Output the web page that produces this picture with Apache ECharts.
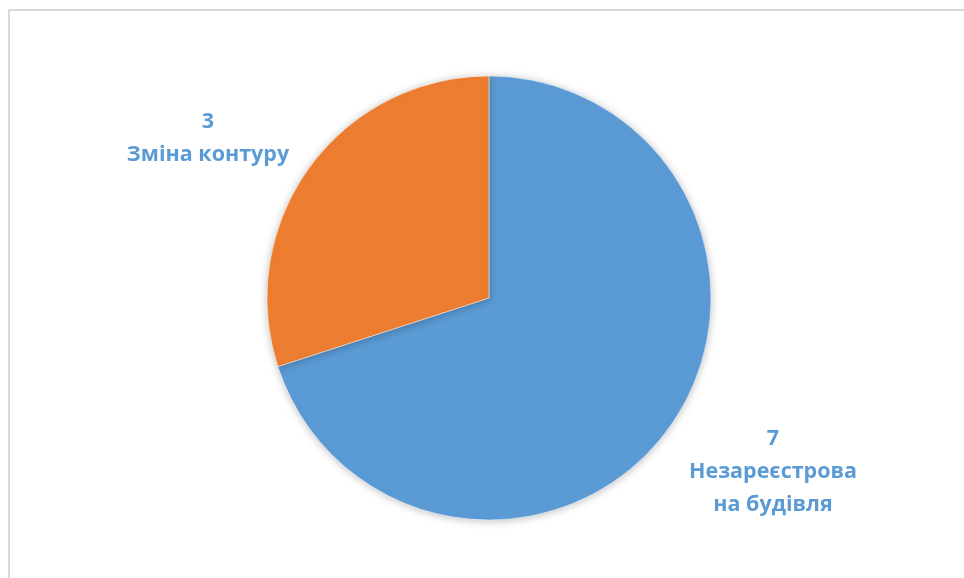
<!DOCTYPE html>
<html>
<head>
<meta charset="utf-8">
<script src="https://cdn.jsdelivr.net/npm/echarts@6/dist/echarts.min.js"></script>
<style>
  html, body { margin: 0; padding: 0; background: #fff; }
  #main { width: 964px; height: 578px; }
</style>
</head>
<body>
<div id="main"></div>
<script>
const categories = ['Незареєстрова\nна будівля', 'Зміна контуру']
const values = [7, 3]
const colors = ['#5B9BD5', '#ED7D31']
// label anchor points, by slice
const labelPos = [[773, 472], [208, 138]]

const chart = echarts.init(document.getElementById('main'))
const option = {
  animation: false,
  graphic: [{
    type: 'rect',
    shape: { x: 9, y: 10, width: 1000, height: 600 },
    style: { fill: 'none', stroke: '#D9D9D9', lineWidth: 2 },
    silent: true
  }],
  series: [{
    type: 'pie',
    center: [489, 298],
    radius: 222,
    startAngle: 90,
    clockwise: true,
    data: categories.map((name, i) => ({ name, value: values[i], itemStyle: { color: colors[i] } })),
    itemStyle: {
      borderColor: '#fff',
      borderWidth: 0.5,
      shadowBlur: 8,
      shadowColor: 'rgba(0,0,0,0.25)',
      shadowOffsetY: 1
    },
    label: {
      show: true,
      position: 'outside',
      formatter: '{c}\n{b}',
      color: '#5B9BD5',
      fontFamily: 'Open Sans',
      fontWeight: 'bold',
      fontSize: 21.5,
      lineHeight: 33,
      align: 'center'
    },
    labelLine: { show: false },
    labelLayout: function (p) {
      const pos = labelPos[p.dataIndex]
      return { x: pos[0], y: pos[1], align: 'center', verticalAlign: 'middle' }
    },
    emphasis: { disabled: true }
  }]
}
chart.setOption(option)
</script>
</body>
</html>
